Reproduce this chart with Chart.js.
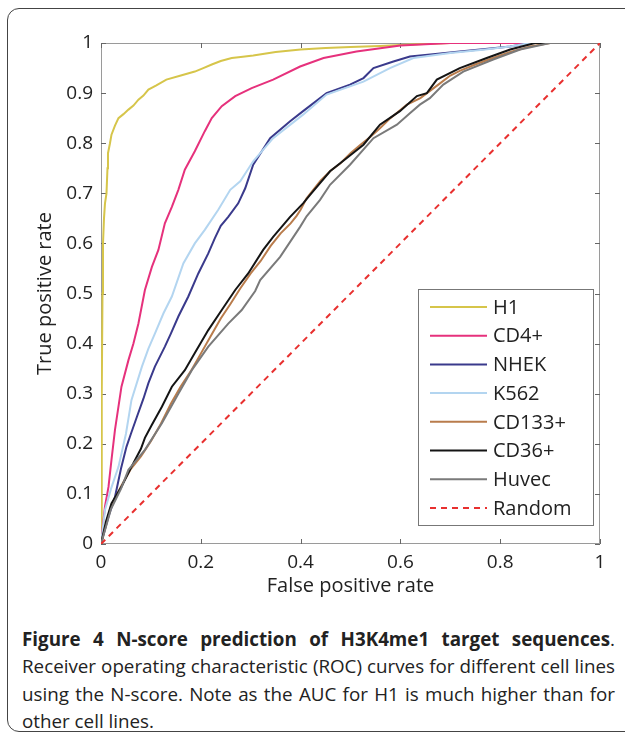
<!DOCTYPE html>
<html>
<head>
<meta charset="utf-8">
<script src="https://cdn.jsdelivr.net/npm/chart.js@4.4.1/dist/chart.umd.min.js"></script>
<style>
  html, body { margin: 0; padding: 0; background: #fff; }
  body { width: 625px; height: 735px; position: relative; overflow: hidden; font-family: "Open Sans", sans-serif; }
  #frame { position: absolute; left: 7px; top: 8px; width: 660px; height: 724px; border: 1.5px solid #444; border-radius: 12px; box-sizing: border-box; }
  #wrap { position: absolute; left: 0; top: 0; width: 625px; height: 610px; }
  #caption { position: absolute; left: 22px; top: 626px; width: 593px; font-size: 18.8px; line-height: 27.3px; color: #222; }
  #caption div { text-align: justify; text-align-last: justify; white-space: nowrap; }
  #caption div.last { text-align-last: left; }
</style>
</head>
<body>
<div id="frame"></div>
<div id="wrap"><canvas id="roc" width="625" height="610"></canvas></div>
<div id="caption">
  <div><b>Figure 4 N-score prediction of H3K4me1 target sequences</b>.</div>
  <div>Receiver operating characteristic (ROC) curves for different cell lines</div>
  <div>using the N-score. Note as the AUC for H1 is much higher than for</div>
  <div class="last">other cell lines.</div>
</div>
<script>
// ── Data (false positive rate / true positive rate) ───────────────────────
const h1Fpr = [0, 0.001, 0.002, 0.003, 0.004, 0.006, 0.008, 0.011, 0.013, 0.014, 0.018, 0.021, 0.028, 0.035, 0.045, 0.055, 0.065, 0.075, 0.085, 0.095, 0.11, 0.131, 0.16, 0.188, 0.205, 0.222, 0.24, 0.262, 0.28, 0.305, 0.35, 0.4, 0.45, 0.5, 0.56, 0.62, 0.7, 1];
const h1Tpr = [0, 0.1, 0.3, 0.5, 0.6, 0.65, 0.68, 0.70, 0.75, 0.78, 0.80, 0.817, 0.835, 0.85, 0.858, 0.867, 0.875, 0.887, 0.895, 0.907, 0.915, 0.927, 0.935, 0.943, 0.95, 0.957, 0.964, 0.970, 0.972, 0.975, 0.982, 0.987, 0.99, 0.992, 0.994, 0.997, 1, 1];

const cd4Fpr = [0, 0.003, 0.008, 0.015, 0.021, 0.028, 0.041, 0.055, 0.065, 0.075, 0.088, 0.102, 0.115, 0.128, 0.142, 0.155, 0.168, 0.188, 0.208, 0.222, 0.242, 0.269, 0.302, 0.345, 0.399, 0.446, 0.512, 0.6, 0.7, 1];
const cd4Tpr = [0, 0.03, 0.075, 0.114, 0.168, 0.228, 0.314, 0.367, 0.40, 0.44, 0.507, 0.553, 0.587, 0.64, 0.673, 0.707, 0.747, 0.784, 0.824, 0.85, 0.874, 0.894, 0.91, 0.927, 0.953, 0.970, 0.983, 0.995, 1, 1];

const nhekFpr = [0, 0.015, 0.028, 0.04, 0.051, 0.06, 0.072, 0.085, 0.095, 0.108, 0.128, 0.14, 0.155, 0.175, 0.195, 0.215, 0.228, 0.24, 0.255, 0.275, 0.289, 0.305, 0.339, 0.379, 0.405, 0.452, 0.499, 0.526, 0.546, 0.586, 0.619, 0.67, 0.719, 0.77, 0.82, 0.86, 1];
const nhekTpr = [0, 0.055, 0.094, 0.15, 0.194, 0.22, 0.254, 0.29, 0.321, 0.354, 0.394, 0.42, 0.454, 0.494, 0.54, 0.58, 0.61, 0.635, 0.653, 0.68, 0.71, 0.757, 0.81, 0.844, 0.864, 0.90, 0.917, 0.93, 0.95, 0.963, 0.973, 0.978, 0.983, 0.988, 0.993, 1, 1];

const k562Fpr = [0, 0.008, 0.02, 0.035, 0.05, 0.061, 0.082, 0.095, 0.108, 0.125, 0.142, 0.165, 0.188, 0.208, 0.235, 0.259, 0.279, 0.305, 0.345, 0.405, 0.452, 0.526, 0.579, 0.626, 0.7, 0.77, 0.82, 0.86, 1];
const k562Tpr = [0, 0.068, 0.11, 0.154, 0.22, 0.287, 0.354, 0.39, 0.42, 0.46, 0.494, 0.56, 0.60, 0.627, 0.667, 0.707, 0.724, 0.764, 0.81, 0.857, 0.897, 0.923, 0.95, 0.97, 0.98, 0.987, 0.993, 1, 1];

const cd133Fpr = [0, 0.01, 0.02, 0.04, 0.06, 0.08, 0.1, 0.12, 0.14, 0.16, 0.18, 0.2, 0.22, 0.24, 0.26, 0.279, 0.3, 0.32, 0.34, 0.36, 0.38, 0.392, 0.4, 0.412, 0.44, 0.46, 0.48, 0.5, 0.52, 0.54, 0.559, 0.58, 0.613, 0.64, 0.66, 0.68, 0.7, 0.72, 0.75, 0.78, 0.82, 0.86, 0.9, 1];
const cd133Tpr = [0, 0.04, 0.075, 0.115, 0.15, 0.175, 0.205, 0.24, 0.28, 0.315, 0.345, 0.38, 0.415, 0.45, 0.48, 0.51, 0.54, 0.565, 0.595, 0.62, 0.64, 0.655, 0.667, 0.69, 0.725, 0.745, 0.76, 0.78, 0.797, 0.813, 0.83, 0.85, 0.877, 0.89, 0.905, 0.92, 0.935, 0.945, 0.957, 0.968, 0.982, 0.993, 1, 1];

const cd36Fpr = [0, 0.01, 0.021, 0.041, 0.061, 0.08, 0.088, 0.102, 0.122, 0.142, 0.168, 0.188, 0.215, 0.242, 0.269, 0.295, 0.325, 0.345, 0.379, 0.405, 0.419, 0.459, 0.492, 0.526, 0.559, 0.599, 0.633, 0.653, 0.673, 0.719, 0.773, 0.82, 0.87, 1];
const cd36Tpr = [0, 0.045, 0.081, 0.114, 0.154, 0.19, 0.212, 0.238, 0.274, 0.314, 0.347, 0.381, 0.427, 0.467, 0.507, 0.54, 0.587, 0.613, 0.653, 0.68, 0.697, 0.744, 0.77, 0.797, 0.837, 0.864, 0.894, 0.90, 0.927, 0.95, 0.97, 0.987, 1, 1];

const huvecFpr = [0, 0.02, 0.04, 0.055, 0.088, 0.122, 0.155, 0.182, 0.215, 0.255, 0.282, 0.309, 0.319, 0.359, 0.399, 0.412, 0.439, 0.459, 0.499, 0.546, 0.593, 0.619, 0.639, 0.659, 0.686, 0.726, 0.786, 0.84, 0.9, 1];
const huvecTpr = [0, 0.07, 0.11, 0.148, 0.188, 0.241, 0.30, 0.347, 0.394, 0.44, 0.467, 0.505, 0.527, 0.573, 0.633, 0.654, 0.687, 0.717, 0.757, 0.81, 0.837, 0.86, 0.877, 0.89, 0.917, 0.943, 0.967, 0.987, 1, 1];

const randomFpr = [0, 1];
const randomTpr = [0, 1];

const xTicks = [0, 0.2, 0.4, 0.6, 0.8, 1];
const yTicks = [0, 0.1, 0.2, 0.3, 0.4, 0.5, 0.6, 0.7, 0.8, 0.9, 1];

const FONT = '"Open Sans", sans-serif';
const toPts = (xs, ys) => xs.map((x, i) => ({ x: x, y: ys[i] }));

// ── Series ────────────────────────────────────────────────────────────────
const series = [
    { label: 'H1',     fpr: h1Fpr,     tpr: h1Tpr,     color: '#d6c54a' },
    { label: 'CD4+',   fpr: cd4Fpr,    tpr: cd4Tpr,    color: '#e6317c' },
    { label: 'NHEK',   fpr: nhekFpr,   tpr: nhekTpr,   color: '#3a3a8c' },
    { label: 'K562',   fpr: k562Fpr,   tpr: k562Tpr,   color: '#b3d5f0' },
    { label: 'CD133+', fpr: cd133Fpr,  tpr: cd133Tpr,  color: '#b97c4c' },
    { label: 'CD36+',  fpr: cd36Fpr,   tpr: cd36Tpr,   color: '#141414' },
    { label: 'Huvec',  fpr: huvecFpr,  tpr: huvecTpr,  color: '#7a7a7a' },
    { label: 'Random', fpr: randomFpr, tpr: randomTpr, color: '#e8302f', dash: [6, 5] },
];

const datasets = series.map((s, i) => ({
    label: s.label,
    data: toPts(s.fpr, s.tpr),
    borderColor: s.color,
    backgroundColor: s.color,
    borderWidth: 2,
    borderDash: s.dash || [],
    pointRadius: 0,
    showLine: true,
    tension: 0,
    order: series.length - i,
}));

// ── Box with inward ticks (drawn under the curves) ───────────────────────
const framePlugin = {
    id: 'frame',
    beforeDatasetsDraw(chart) {
        const { ctx, chartArea: a, scales: { x, y } } = chart;
        ctx.save();
        ctx.strokeStyle = '#9a9a9a';
        ctx.lineWidth = 1;
        ctx.strokeRect(a.left + 0.5, a.top + 0.5, a.right - a.left - 1, a.bottom - a.top - 1);
        ctx.strokeStyle = '#666';
        ctx.beginPath();
        xTicks.forEach(v => {
            const px = Math.round(x.getPixelForValue(v)) + 0.5;
            ctx.moveTo(px, a.bottom); ctx.lineTo(px, a.bottom - 5);
            ctx.moveTo(px, a.top);    ctx.lineTo(px, a.top + 5);
        });
        yTicks.forEach(v => {
            const py = Math.round(y.getPixelForValue(v)) + 0.5;
            ctx.moveTo(a.left, py);  ctx.lineTo(a.left + 5, py);
            ctx.moveTo(a.right, py); ctx.lineTo(a.right - 5, py);
        });
        ctx.stroke();
        ctx.restore();
    }
};

// ── Legend box inside the plot, lower right ──────────────────────────────
const legendPlugin = {
    id: 'boxLegend',
    afterDraw(chart) {
        const { ctx } = chart;
        const box = { left: 418, top: 289, right: 593, bottom: 525 };
        const rowH = 28.7, firstY = 307;
        ctx.save();
        ctx.fillStyle = '#fff';
        ctx.fillRect(box.left, box.top, box.right - box.left, box.bottom - box.top);
        ctx.strokeStyle = '#777';
        ctx.lineWidth = 1;
        ctx.strokeRect(box.left + 0.5, box.top + 0.5, box.right - box.left, box.bottom - box.top);
        ctx.font = '20px ' + FONT;
        ctx.textBaseline = 'middle';
        chart.data.datasets.forEach((ds, i) => {
            const yy = firstY + i * rowH;
            ctx.strokeStyle = ds.borderColor;
            ctx.lineWidth = 2;
            ctx.setLineDash(ds.borderDash);
            ctx.beginPath();
            ctx.moveTo(430, yy); ctx.lineTo(487, yy);
            ctx.stroke();
            ctx.setLineDash([]);
            ctx.fillStyle = '#222';
            ctx.fillText(ds.label, 493, yy + 1);
        });
        ctx.restore();
    }
};

new Chart(document.getElementById('roc'), {
    type: 'scatter',
    data: { datasets: datasets },
    plugins: [framePlugin, legendPlugin],
    options: {
        responsive: false,
        animation: false,
        devicePixelRatio: 1,
        layout: { padding: { left: 0, top: 43, right: 25, bottom: 0 } },
        plugins: { legend: { display: false }, tooltip: { enabled: false } },
        scales: {
            x: {
                type: 'linear', min: 0, max: 1,
                afterFit: s => { s.height = 66; },
                afterBuildTicks: s => { s.ticks = xTicks.map(v => ({ value: v })); },
                grid: { display: false, drawTicks: false },
                border: { display: false },
                ticks: { color: '#222', padding: 7, font: { family: FONT, size: 19 }, maxRotation: 0, callback: v => String(v) },
                title: { display: true, text: 'False positive rate', color: '#222', font: { family: FONT, size: 20 }, padding: { top: 0, bottom: 12 } }
            },
            y: {
                type: 'linear', min: 0, max: 1,
                afterFit: s => { s.width = 101; },
                afterBuildTicks: s => { s.ticks = yTicks.map(v => ({ value: v })); },
                grid: { display: false, drawTicks: false },
                border: { display: false },
                ticks: { color: '#222', padding: 8, font: { family: FONT, size: 19 }, callback: v => String(v) },
                title: { display: true, text: 'True positive rate', color: '#222', font: { family: FONT, size: 20 }, padding: { top: 33, bottom: 0 } }
            }
        }
    }
});
</script>
</body>
</html>
